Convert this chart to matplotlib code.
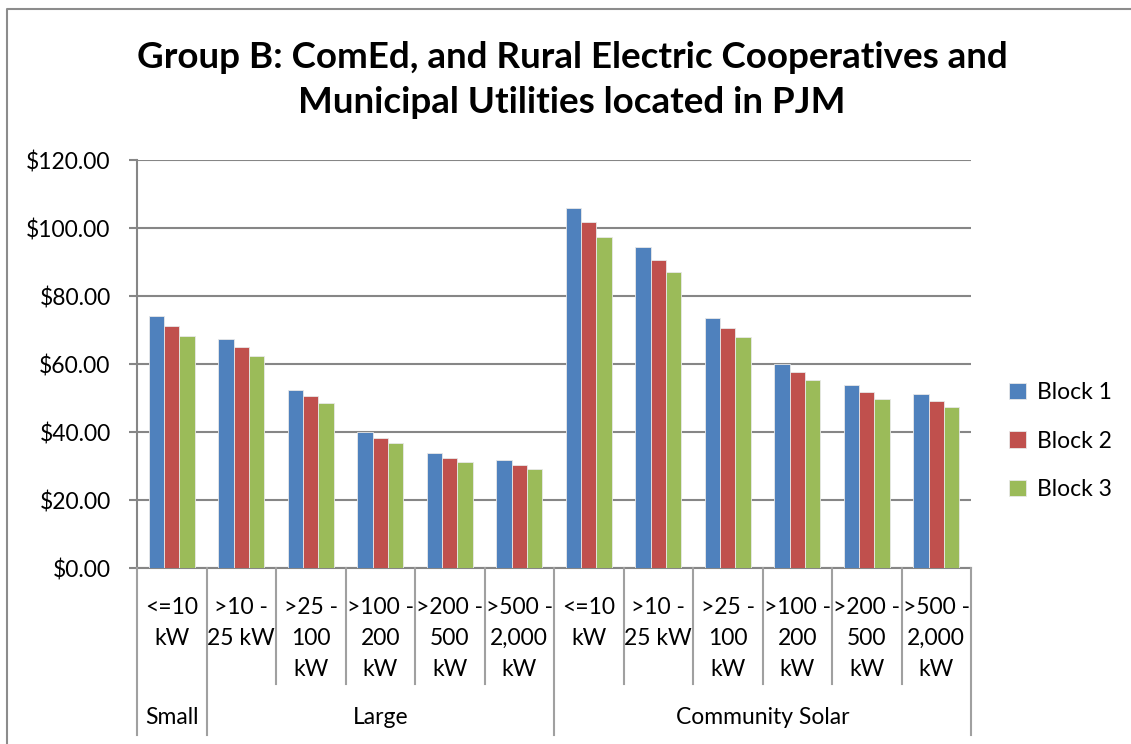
import matplotlib.pyplot as plt
from matplotlib.lines import Line2D
import numpy as np

plt.rcParams['font.family'] = ['Lato', 'DejaVu Sans']

# category labels (two levels)
categories = ["<=10\nkW", ">10 -\n25 kW", ">25 -\n100\nkW", ">100 -\n200\nkW",
              ">200 -\n500\nkW", ">500 -\n2,000\nkW",
              "<=10\nkW", ">10 -\n25 kW", ">25 -\n100\nkW", ">100 -\n200\nkW",
              ">200 -\n500\nkW", ">500 -\n2,000\nkW"]
groups = ["Small", "Large", "Community Solar"]
group_sizes = [1, 5, 6]

block1 = [74.1, 67.5, 52.5, 39.9, 33.9, 31.7, 105.9, 94.3, 73.5, 60.1, 53.9, 51.3]
block2 = [71.2, 64.9, 50.5, 38.2, 32.5, 30.4, 101.7, 90.5, 70.6, 57.7, 51.8, 49.2]
block3 = [68.2, 62.3, 48.4, 36.7, 31.3, 29.1, 97.5, 87.0, 67.8, 55.4, 49.6, 47.3]
series_names = ["Block 1", "Block 2", "Block 3"]
colors = ["#4F81BD", "#C0504D", "#9BBB59"]

W, H = 1131, 744
fig = plt.figure(figsize=(W / 100, H / 100), dpi=100)
ax = fig.add_axes([137 / W, (H - 568) / H, (971 - 137) / W, (568 - 160) / H])

x = np.arange(len(categories))
w = 1 / 4.5
for i, (vals, name, c) in enumerate(zip([block1, block2, block3], series_names, colors)):
    ax.bar(x + (i - 1) * w, vals, width=w, color=c, edgecolor="#e8e8e8",
           linewidth=0.6, label=name, zorder=3)

ax.set_xlim(-0.5, len(categories) - 0.5)
ax.set_ylim(0, 120)
ax.set_yticks(np.arange(0, 121, 20))
ax.set_yticklabels([f"${v:.2f}" for v in np.arange(0, 121, 20)], fontsize=16.5)
ax.yaxis.grid(True, color="#868686", linewidth=1.5, zorder=0)
ax.tick_params(axis="y", length=6, width=1.5, color="#868686", pad=13)
ax.set_xticks([])
for s in ["top", "right"]:
    ax.spines[s].set_visible(False)
for s in ["left", "bottom"]:
    ax.spines[s].set_color("#868686")
    ax.spines[s].set_linewidth(1.5)

# multi-level category axis
def fy(py):
    return (H - py) / H

def fx(d):
    return ax.transData.transform((d, 0))[0] / W

fig.canvas.draw()
for i, lab in enumerate(categories):
    fig.text(fx(i), fy(597), lab, ha="center", va="top", fontsize=16.5,
             linespacing=1.58)
bounds = np.cumsum([0] + group_sizes) - 0.5
for b in np.arange(-0.5, len(categories), 1.0):
    bottom = 735 if b in bounds else 684
    fig.add_artist(Line2D([fx(b), fx(b)], [fy(568), fy(bottom)],
                          color="#a0a0a0", linewidth=1.5))
for g, a, b in zip(groups, bounds[:-1], bounds[1:]):
    fig.text((fx(a) + fx(b)) / 2, fy(718), g, ha="center", va="center",
             fontsize=16.5)

fig.suptitle("Group B: ComEd, and Rural Electric Cooperatives and\n"
             "Municipal Utilities located in PJM",
             x=572 / W, y=fy(41), va="top", fontsize=26.5, fontweight="bold",
             linespacing=1.45)

ax.legend(loc="center left", bbox_to_anchor=(988 / W, fy(441)),
          bbox_transform=fig.transFigure, frameon=False, fontsize=16.5,
          handlelength=0.75, handleheight=0.75, handletextpad=0.5,
          labelspacing=1.2)

# outer chart border
fig.add_artist(Line2D([7 / W, 7 / W, 1.0], [0.0, fy(9), fy(9)],
                      color="#8c8c8c", linewidth=1.5))

fig.savefig("out.png", dpi=100)
